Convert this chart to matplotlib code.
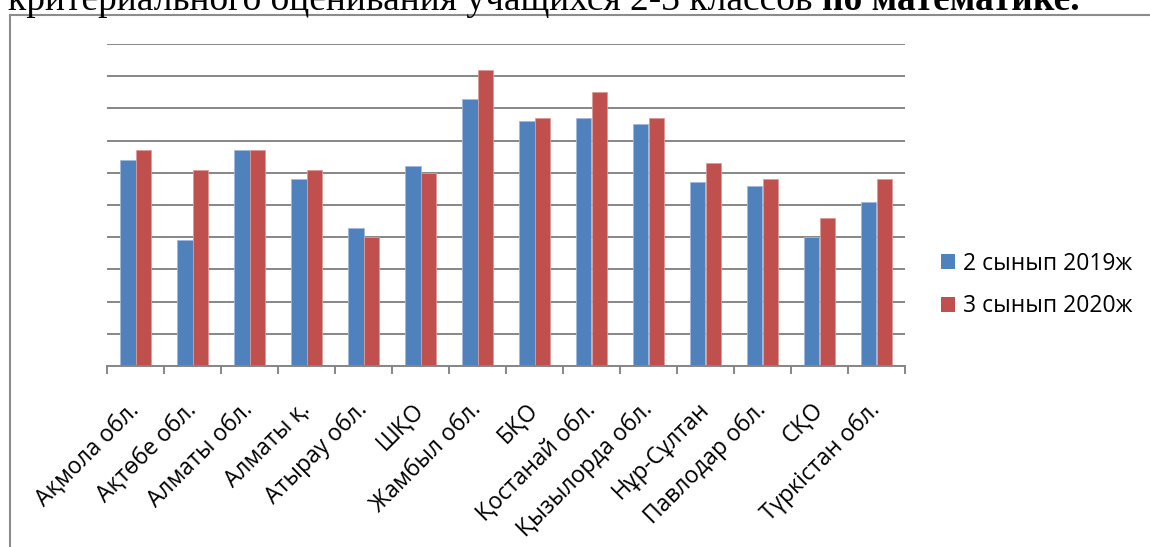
import numpy as np
import matplotlib.pyplot as plt
from matplotlib.lines import Line2D
from matplotlib.patches import Patch

# Дані (оцінені з рисунка, шкала 0-100)
regions = ["Ақмола обл.", "Ақтөбе обл.", "Алматы обл.", "Алматы қ.", "Атырау обл.",
           "ШҚО", "Жамбыл обл.", "БҚО", "Қостанай обл.", "Қызылорда обл.",
           "Нұр-Сұлтан", "Павлодар обл.", "СҚО", "Түркістан обл."]
grade2_2019 = [64, 39, 67, 58, 43, 62, 83, 76, 77, 75, 57, 56, 40, 51]
grade3_2020 = [67, 61, 67, 61, 40, 60, 92, 77, 85, 77, 63, 58, 46, 58]
series_names = ["2 сынып 2019ж", "3 сынып 2020ж"]

title_normal = "критериального оценивания учащихся 2-3 классов "
title_bold = "по математике."

blue = "#4F81BD"
red = "#C0504D"
grid_c = "#868686"

plt.rcParams['font.family'] = ['Open Sans', 'DejaVu Sans']

W, H = 1150, 547
fig = plt.figure(figsize=(W / 100, H / 100), dpi=100)

# рамка діаграми
fig.add_artist(Line2D([10 / W, 10 / W], [0, 1 - 15 / H], color="#8c8c8c", lw=1.5))
fig.add_artist(Line2D([10 / W, 1], [1 - 15 / H, 1 - 15 / H], color="#8c8c8c", lw=1.5))

# заголовок (обрізаний зверху)
t1 = fig.text(8 / W, 1 - 10 / H, title_normal, family="Liberation Serif",
              fontsize=27, va="baseline", ha="left")
fig.canvas.draw()
bb = t1.get_window_extent(renderer=fig.canvas.get_renderer())
fig.text(bb.x1 / W, 1 - 10 / H, title_bold, family="Liberation Serif",
         fontsize=27, fontweight="bold", va="baseline", ha="left")

ax = fig.add_axes([107 / W, 1 - 366 / H, (905 - 107) / W, (366 - 44) / H])

x = np.arange(len(regions))
bw = 0.28
ax.bar(x - bw / 2, grade2_2019, bw, color=blue, edgecolor="#9fb8dc", linewidth=0.6, zorder=3)
ax.bar(x + bw / 2, grade3_2020, bw, color=red, edgecolor="#dc9a98", linewidth=0.6, zorder=3)

ax.set_xlim(-0.5, len(regions) - 0.5)
ax.set_ylim(0, 100)
ax.set_yticks(np.arange(0, 101, 10))
ax.yaxis.grid(True, color=grid_c, linewidth=1.4, zorder=0)
ax.tick_params(axis="y", length=0, labelleft=False)

# поділки між категоріями, підписи по центру
ax.set_xticks(np.arange(-0.5, len(regions), 1.0))
ax.set_xticklabels([])
ax.tick_params(axis="x", which="major", length=6, width=1.4, color=grid_c, direction="out")
ax.set_xticks(x, minor=True)
ax.set_xticklabels(regions, minor=True, rotation=45, ha="right", va="center",
                   rotation_mode="anchor", fontsize=16.5)
ax.tick_params(axis="x", which="minor", length=0, pad=29)

for s in ["top", "right", "left"]:
    ax.spines[s].set_visible(False)
ax.spines["bottom"].set_color(grid_c)
ax.spines["bottom"].set_linewidth(1.4)
ax.spines["bottom"].set_zorder(4)

handles = [Patch(facecolor=blue), Patch(facecolor=red)]
fig.legend(handles, series_names, loc="center left", bbox_to_anchor=(941 / W, 1 - 285 / H),
           frameon=False, fontsize=16.5, handlelength=0.63, handleheight=0.63,
           handletextpad=0.35, labelspacing=0.8, borderpad=0, borderaxespad=0)

plt.savefig("out.png", dpi=100)
plt.close()
